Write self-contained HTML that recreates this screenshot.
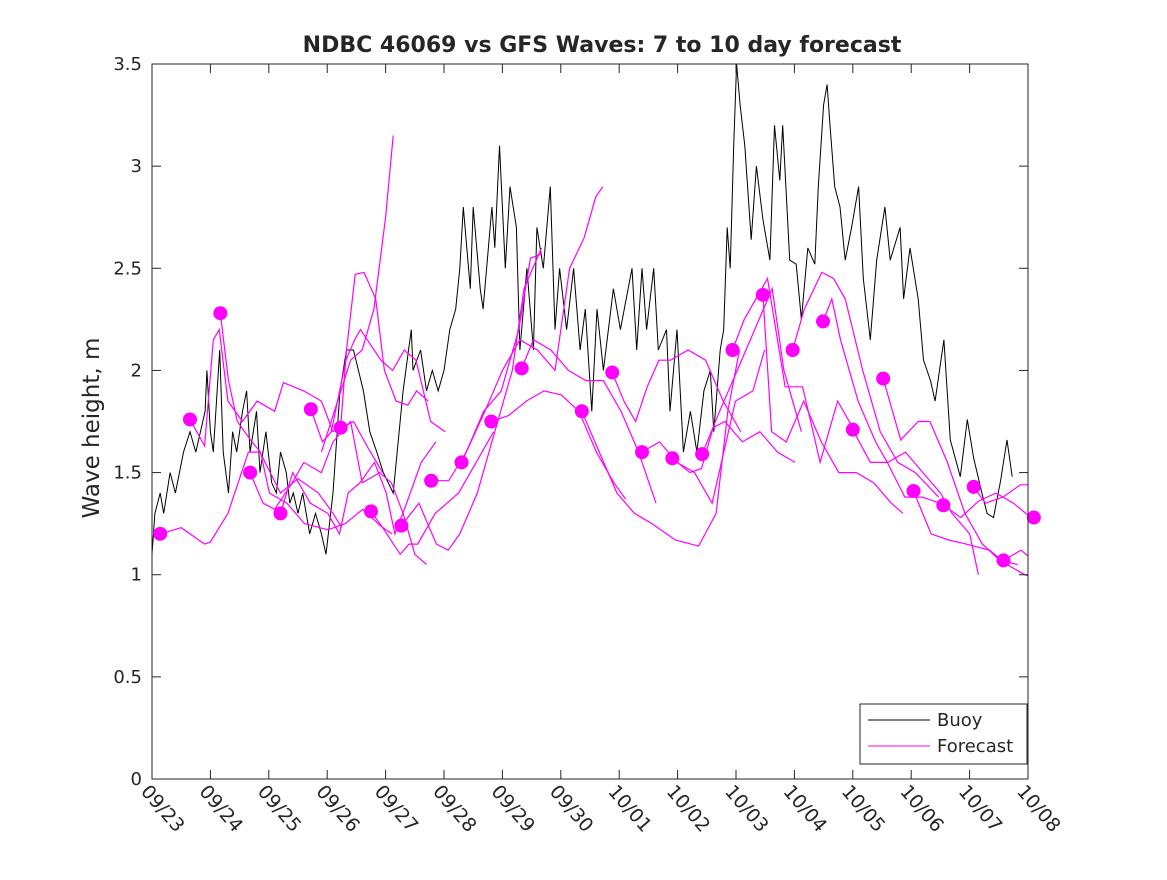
<!DOCTYPE html>
<html><head><meta charset="utf-8"><style>
body{margin:0;background:#fff;}
svg text{font-family:"DejaVu Sans","Liberation Sans",sans-serif;fill:#262626;}
</style></head><body>
<svg id="chart" width="1167" height="875" viewBox="0 0 1167 875">
<rect width="1167" height="875" fill="#fff"/>
<defs><clipPath id="pc"><rect x="152" y="64" width="876" height="715"/></clipPath></defs>
<text x="602" y="52" text-anchor="middle" font-size="22" font-weight="bold" fill="#000">NDBC 46069 vs GFS Waves: 7 to 10 day forecast</text>
<text transform="translate(99,428) rotate(-90)" text-anchor="middle" font-size="23">Wave height, m</text>
<g id="series" clip-path="url(#pc)"></g>
<g id="dots"></g>
<rect x="152" y="64" width="876" height="715" fill="none" stroke="#262626" stroke-width="1"/>
<g id="axes"></g>
<g>
<rect x="860" y="704" width="167" height="60" fill="#fff" stroke="#262626"/>
<line x1="868" y1="720" x2="930" y2="720" stroke="#000"/>
<text x="937" y="726" font-size="18">Buoy</text>
<line x1="868" y1="746" x2="930" y2="746" stroke="#f0f"/>
<text x="937" y="752" font-size="18">Forecast</text>
</g>
</svg>
<script>
const xTickLabels=["09/23","09/24","09/25","09/26","09/27","09/28","09/29","09/30","10/01","10/02","10/03","10/04","10/05","10/06","10/07","10/08"];
const yTicks=[0,0.5,1,1.5,2,2.5,3,3.5];
const yTickLabels=["0","0.5","1","1.5","2","2.5","3","3.5"];
// buoy observations: days since 09/23, wave height m
const buoyTimes=[0,0.05,0.14,0.2,0.31,0.4,0.54,0.65,0.75,0.91,0.94,1.0,1.05,1.16,1.22,1.31,1.38,1.45,1.55,1.62,1.68,1.79,1.85,1.95,2.05,2.13,2.2,2.3,2.36,2.42,2.5,2.58,2.7,2.8,2.9,2.98,3.1,3.22,3.33,3.45,3.62,3.73,3.85,3.96,4.13,4.3,4.44,4.47,4.6,4.7,4.8,4.9,5.0,5.1,5.2,5.27,5.33,5.45,5.5,5.62,5.67,5.82,5.87,5.95,6.05,6.13,6.24,6.3,6.42,6.53,6.59,6.7,6.82,6.9,6.98,7.1,7.22,7.33,7.42,7.53,7.62,7.73,7.9,8.02,8.22,8.3,8.39,8.47,8.59,8.67,8.81,8.87,8.99,9.1,9.22,9.33,9.45,9.56,9.62,9.73,9.79,9.85,9.9,9.96,10.01,10.07,10.15,10.26,10.35,10.46,10.58,10.66,10.75,10.8,10.92,11.03,11.12,11.23,11.35,11.41,11.5,11.56,11.61,11.69,11.78,11.87,11.98,12.1,12.18,12.3,12.41,12.55,12.64,12.81,12.87,12.98,13.12,13.21,13.33,13.41,13.56,13.67,13.84,13.96,14.07,14.21,14.3,14.41,14.53,14.64,14.73];
const buoyValues=[1.1,1.3,1.4,1.3,1.5,1.4,1.6,1.7,1.6,1.8,2.0,1.7,1.6,2.1,1.6,1.4,1.7,1.6,1.8,1.9,1.6,1.8,1.5,1.7,1.45,1.4,1.6,1.5,1.35,1.4,1.3,1.4,1.2,1.3,1.2,1.1,1.4,1.9,2.1,2.1,1.9,1.7,1.6,1.5,1.4,1.9,2.2,2.0,2.1,1.9,2.0,1.9,2.0,2.2,2.3,2.5,2.8,2.4,2.8,2.4,2.3,2.8,2.6,3.1,2.5,2.9,2.7,2.1,2.5,2.1,2.7,2.5,2.9,2.2,2.5,2.2,2.5,2.1,2.3,1.8,2.3,2.0,2.4,2.2,2.5,2.1,2.5,2.2,2.5,2.1,2.2,1.8,2.2,1.6,1.8,1.6,1.9,2.0,1.7,2.1,2.2,2.7,2.5,3.1,3.5,3.3,3.1,2.64,3.0,2.74,2.54,3.2,2.93,3.2,2.54,2.52,2.25,2.6,2.52,2.9,3.3,3.4,3.2,2.9,2.8,2.54,2.7,2.9,2.45,2.15,2.54,2.8,2.54,2.7,2.35,2.6,2.35,2.05,1.95,1.85,2.15,1.66,1.48,1.76,1.57,1.4,1.3,1.28,1.46,1.66,1.48];
// forecast runs: days since 09/23, wave heights m
const fcTimes=[
[0.14,0.5,0.9,1.0,1.3,1.65,1.85,2.2,2.5,2.85,3.1,3.25],
[0.65,0.9,1.05,1.15,1.3,1.55,1.8,2.1,2.25,2.6,2.9,3.1,3.45,3.7,3.95],
[1.17,1.31,1.46,1.71,1.86,2.01,2.31,2.61,3.01,3.31,3.61,3.91,4.11],
[1.68,1.9,2.1,2.4,2.6,2.9,3.1,3.4,3.6,3.9,4.1,4.3,4.5,4.7],
[2.2,2.41,2.71,3.01,3.21,3.36,3.56,3.81,4.01,4.16,4.36,4.61,4.86],
[2.72,2.92,3.07,3.32,3.47,3.57,3.92,4.12,4.32,4.52,4.77,5.02],
[2.9,3.4,3.6,3.8,4.0,4.13],
[3.23,3.33,3.48,3.63,3.83,3.98,4.18,4.38,4.53,4.73],
[3.75,3.95,4.25,4.4,4.55,4.85,5.05,5.25,5.55,5.85],
[4.27,4.57,4.87,5.07,5.27,5.57,5.87,6.17,6.37,6.67],
[4.78,5.08,5.38,5.68,5.98,6.28,6.48,6.68],
[5.3,5.7,6.0,6.3,6.6,6.9,7.15,7.4,7.6,7.72],
[5.81,6.11,6.41,6.71,7.01,7.31,7.61,7.91,8.11],
[6.33,6.53,6.83,7.13,7.43,7.73,8.03,8.33,8.63],
[7.36,7.66,7.96,8.26,8.56,8.96,9.36,9.66,9.86,10.06],
[7.88,8.08,8.28,8.48,8.68,8.88,9.18,9.48,9.78,10.08],
[8.39,8.69,8.99,9.29,9.59,9.99,10.29,10.49],
[8.91,9.21,9.41,9.61,9.81,10.11,10.41,10.71,11.01],
[9.42,9.72,10.02,10.32,10.62,10.82,11.12],
[9.94,10.14,10.34,10.54,10.84,11.14,11.44,11.74,12.04],
[10.46,10.61,10.86,11.16,11.46,11.76,12.06,12.36,12.66,12.86],
[10.97,11.17,11.47,11.67,11.87,12.17,12.47,12.77,13.07,13.47],
[11.49,11.64,11.79,12.09,12.39,12.59,12.89,13.19,13.49],
[12.0,12.3,12.6,12.9,13.2,13.5,13.7,14.0,14.15],
[12.52,12.82,13.12,13.32,13.62,13.92,14.22,14.52,14.82],
[13.04,13.34,13.64,13.94,14.34,14.64,14.94,15.3],
[13.55,13.85,14.15,14.45,14.75,15.05,15.35],
[14.07,14.27,14.57,14.87,15.17,15.37],
[14.58,14.88,15.18,15.38],
[15.1,15.25,15.4]];
const fcValues=[
[1.2,1.23,1.15,1.16,1.3,1.6,1.6,1.4,1.47,1.4,1.3,1.23],
[1.76,1.63,2.15,2.2,1.85,1.75,1.85,1.8,1.94,1.9,1.85,1.7,1.75,1.62,1.5],
[2.28,1.95,1.75,1.65,1.6,1.4,1.35,1.25,1.22,1.25,1.32,1.24,1.2],
[1.5,1.35,1.32,1.45,1.55,1.5,1.65,1.75,1.45,1.5,1.45,1.3,1.1,1.05],
[1.3,1.5,1.35,1.3,1.2,1.4,1.45,1.55,1.4,1.2,1.35,1.55,1.65],
[1.81,1.65,1.7,2.05,2.15,2.2,2.05,2.0,2.1,2.05,1.75,1.7],
[1.6,2.05,2.1,2.3,2.75,3.15],
[1.72,2.1,2.47,2.48,2.35,2.0,1.85,1.83,1.9,1.85],
[1.31,1.23,1.1,1.15,1.15,1.3,1.35,1.4,1.55,1.7],
[1.24,1.35,1.15,1.12,1.2,1.4,1.7,2.0,2.4,2.6],
[1.46,1.46,1.6,1.8,1.9,2.2,2.55,2.57],
[1.55,1.8,2.0,2.15,2.1,2.0,2.5,2.65,2.85,2.9],
[1.75,1.78,1.85,1.9,1.88,1.8,1.6,1.45,1.37],
[2.01,2.15,2.1,2.0,1.95,1.95,1.8,1.6,1.35],
[1.8,1.6,1.4,1.3,1.25,1.17,1.14,1.3,1.8,2.1],
[1.99,1.85,1.75,1.92,2.05,2.05,2.1,2.05,1.85,1.7],
[1.6,1.65,1.55,1.5,1.35,1.85,1.9,2.1],
[1.57,1.5,1.52,1.72,1.75,1.65,1.7,1.6,1.55],
[1.59,1.8,2.0,2.2,2.4,2.0,1.7],
[2.1,2.25,2.35,2.45,1.92,1.92,1.55,1.85,1.7],
[2.37,1.7,1.65,1.85,1.65,1.5,1.5,1.45,1.35,1.3],
[2.1,2.3,2.48,2.45,2.35,2.0,1.7,1.55,1.5,1.38],
[2.24,2.35,2.15,1.85,1.65,1.55,1.38,1.38,1.35],
[1.71,1.55,1.55,1.6,1.5,1.4,1.3,1.2,1.0],
[1.96,1.66,1.75,1.75,1.55,1.3,1.15,1.07,1.05],
[1.41,1.2,1.17,1.15,1.12,1.05,1.0,0.97],
[1.34,1.28,1.36,1.4,1.35,1.28,1.4],
[1.43,1.35,1.38,1.44,1.44,1.5],
[1.07,1.12,1.05,1.05],
[1.28,1.32,1.55]];
const NS="http://www.w3.org/2000/svg";
const X0=152,X1=1028,Y0=779,Y1=64;
const xs=d=>X0+(X1-X0)*d/15;
const ys=v=>Y0-(Y0-Y1)*v/3.5;
function mk(tag,attrs,parent){const e=document.createElementNS(NS,tag);for(const k in attrs)e.setAttribute(k,attrs[k]);parent.appendChild(e);return e;}
const axes=document.getElementById('axes'),series=document.getElementById('series'),dots=document.getElementById('dots');
xTickLabels.forEach((lab,i)=>{
  const x=xs(i);
  const t1=mk('line',{x1:x,y1:Y0,x2:x,y2:Y0-9,stroke:'#262626'},axes);
  
  
  mk('line',{x1:x,y1:Y1,x2:x,y2:Y1+9,stroke:'#262626'},axes);
  const t=mk('text',{transform:`translate(${x-12},${Y0+13}) rotate(49)`,'font-size':19},axes);
  
  
  t.textContent=lab;
});
yTicks.forEach((v,i)=>{
  const y=ys(v);
  const t1=mk('line',{x1:X0,y1:y,x2:X0+9,y2:y,stroke:'#262626'},axes);
  
  
  mk('line',{x1:X1,y1:y,x2:X1-9,y2:y,stroke:'#262626'},axes);
  const t=mk('text',{x:X0-10,y:y+6,'text-anchor':'end','font-size':18},axes);
  
  
  t.textContent=yTickLabels[i];
});
let bp='';
buoyTimes.forEach((t,i)=>{const x=xs(t),y=ys(buoyValues[i]);bp+=(i?` L${x.toFixed(1)},${y.toFixed(1)}`:`M${x.toFixed(1)},${y.toFixed(1)}`);});
const b=mk('path',{d:bp,fill:'none',stroke:'#000','stroke-width':1},series);


fcTimes.forEach((ts,i)=>{
  const vs=fcValues[i];
  const pts=ts.map((t,j)=>xs(t).toFixed(1)+','+ys(vs[j]).toFixed(1)).join(' ');
  const p=mk('polyline',{points:pts,fill:'none',stroke:'#f0f','stroke-width':1.2},series);
  
  
  if(i!==6){
    const c=mk('circle',{cx:xs(ts[0]),cy:ys(vs[0]),r:7,fill:'#f0f'},dots);
    
    
  }
});
</script>
</body></html>
